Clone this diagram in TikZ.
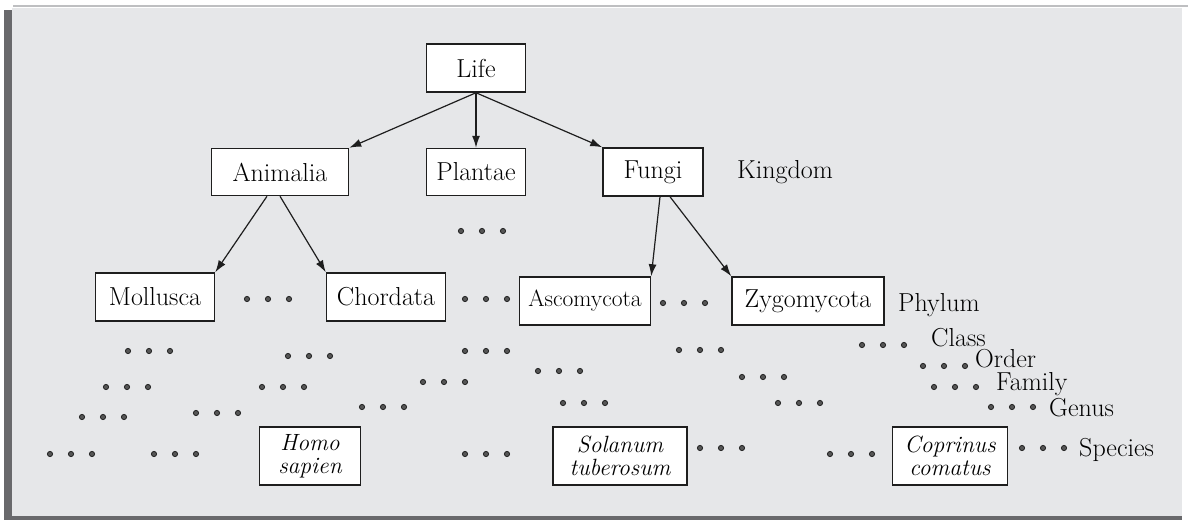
\documentclass[tikz,border=0pt]{standalone}
\usetikzlibrary{arrows.meta}
\definecolor{panel}{RGB}{230,231,233}
\definecolor{edgedark}{RGB}{105,105,108}
\definecolor{edgelight}{RGB}{190,191,193}
\definecolor{ink}{RGB}{30,30,30}
\begin{document}
\begin{tikzpicture}[x=1pt,y=-1pt,
  box/.style={draw=ink, fill=white, line width=1.5pt, inner sep=0pt, text=black, font=\fontsize{26}{28}\selectfont},
  ibox/.style={box, align=center, font=\fontsize{23.5}{23.5}\selectfont\itshape},
  lab/.style={inner sep=0pt, anchor=base west, font=\fontsize{26}{28}\selectfont, text=black},
  arr/.style={-{Latex[length=12pt,width=8pt]}, line width=1.2pt, draw=ink},
  ell/.pic={\foreach \dx in {-21,0,21}{\fill[ink!75, draw=ink, line width=0.8pt] (\dx,0) circle (2.6pt);}}
]
\useasboundingbox (0,0) rectangle (1188,523);
\fill[white] (0,0) rectangle (1188,523);
\fill[panel] (12,8) rectangle (1182,516);
\draw[edgelight, line width=2pt] (13,6) -- (1188,6);
\fill[edgedark] (4,10) rectangle (12,520);
\fill[edgedark] (4,516) rectangle (1182,520);

% boxes
\node[box, minimum width=99pt, minimum height=48pt] (life) at (476,68) {Life};
\node[box, minimum width=137pt, minimum height=47pt] (animalia) at (280,172) {Animalia};
\node[box, minimum width=99pt, minimum height=47pt] (plantae) at (476,172) {Plantae};
\node[box, minimum width=100pt, minimum height=48pt] (fungi) at (653,172) {Fungi};
\node[box, minimum width=119pt, minimum height=48pt] (mollusca) at (155,297) {Mollusca};
\node[box, minimum width=119pt, minimum height=48pt] (chordata) at (386,297) {Chordata};
\node[box, minimum width=131pt, minimum height=48pt, font=\fontsize{23.5}{25}\selectfont] (asco) at (585,301) {Ascomycota};
\node[box, minimum width=152pt, minimum height=48pt] (zygo) at (808,301) {Zygomycota};
\node[ibox, minimum width=101pt, minimum height=58pt] (homo) at (310,456) {Homo\\sapien};
\node[ibox, minimum width=134pt, minimum height=58pt] (solanum) at (620,456) {Solanum\\tuberosum};
\node[ibox, minimum width=115pt, minimum height=58pt] (coprinus) at (950,456) {Coprinus\\comatus};

% rank labels
\node[lab] (kingdom) at (737,178) {Kingdom};
\node[lab] (phylum) at (898,311) {Phylum};
\node[lab] (class) at (931,346) {Class};
\node[lab] (order) at (975,367) {Order};
\node[lab] (family) at (996,390) {Family};
\node[lab] (genus) at (1049,416) {Genus};
\node[lab] (species) at (1079,456) {Species};

% arrows
\draw[arr] (life.south) -- (animalia.north east);
\draw[arr] (life.south) -- (plantae.north);
\draw[arr] (life.south) -- (fungi.north west);
\draw[arr] ([xshift=-13pt]animalia.south) -- (mollusca.north east);
\draw[arr] (animalia.south) -- (chordata.north west);
\draw[arr] ([xshift=7pt]fungi.south) -- (asco.north east);
\draw[arr] ([xshift=17pt]fungi.south) -- (zygo.north west);

% ellipses
\pic at (482,231) {ell};
\pic at (268,299) {ell};
\pic at (486,299) {ell};
\pic at (684,303) {ell};
\pic at (149,351) {ell};
\pic at (309,356) {ell};
\pic at (486,351) {ell};
\pic at (700,350) {ell};
\pic at (883,345) {ell};
\pic at (944,366) {ell};
\pic at (127,387) {ell};
\pic at (283,387) {ell};
\pic at (444,382) {ell};
\pic at (559,371) {ell};
\pic at (763,377) {ell};
\pic at (955,387) {ell};
\pic at (103,417) {ell};
\pic at (217,413) {ell};
\pic at (383,407) {ell};
\pic at (584,403) {ell};
\pic at (799,403) {ell};
\pic at (1012,407) {ell};
\pic at (71,454) {ell};
\pic at (175,454) {ell};
\pic at (486,454) {ell};
\pic at (721,448) {ell};
\pic at (851,454) {ell};
\pic at (1043,448) {ell};
\end{tikzpicture}
\end{document}
